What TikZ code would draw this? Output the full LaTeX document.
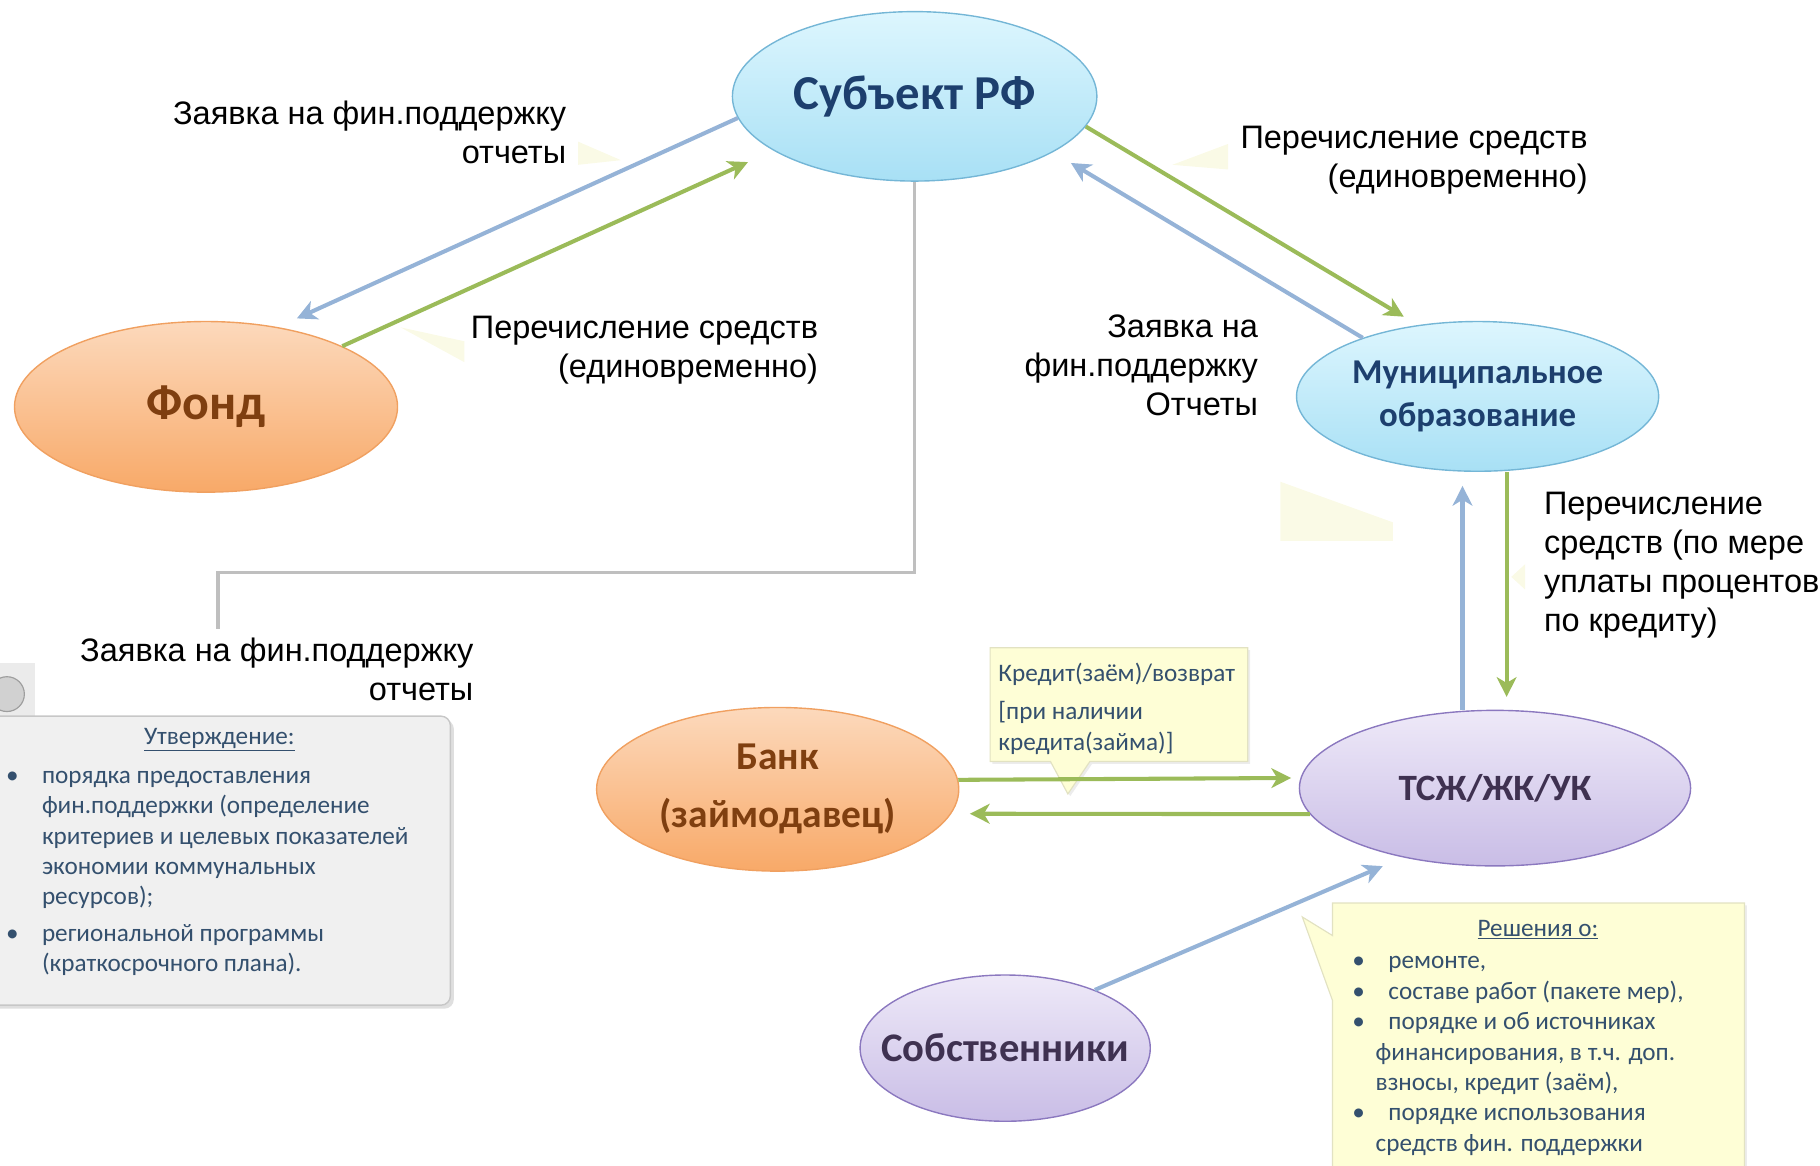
\documentclass[tikz,border=0pt]{standalone}
\usepackage{fontspec}
\setmainfont{Liberation Sans}
\newfontfamily\calfont{Carlito}
\usetikzlibrary{arrows.meta,shapes.geometric,shadows,calc}
\definecolor{cyanT}{HTML}{DDF6FE}
\definecolor{cyanBt}{HTML}{A8E0F5}
\definecolor{cyanB}{HTML}{74B6D6}
\definecolor{orT}{HTML}{FCD9BC}
\definecolor{orBt}{HTML}{F8A968}
\definecolor{orB}{HTML}{F0A060}
\definecolor{lavT}{HTML}{EEE9F8}
\definecolor{lavBt}{HTML}{C9BDE6}
\definecolor{lavB}{HTML}{8B78BF}
\definecolor{txtBlue}{HTML}{1D3F6E}
\definecolor{txtBrown}{HTML}{7F3F10}
\definecolor{txtPurple}{HTML}{3F3151}
\definecolor{arrBlue}{HTML}{95B3D7}
\definecolor{arrGreen}{HTML}{9BBB59}
\definecolor{lineGray}{HTML}{BFBFBF}
\definecolor{noteTxt}{HTML}{34506E}
\definecolor{noteYel}{HTML}{FEFED6}
\definecolor{noteYelB}{HTML}{E2E2C2}
\definecolor{paleYel}{HTML}{FAFAE6}
\tikzset{
  ell/.style={ellipse, inner sep=0pt, line width=1.2pt, align=center},
  cyanell/.style={ell, draw=cyanB, top color=cyanT, bottom color=cyanBt, text=txtBlue},
  orell/.style={ell, draw=orB, top color=orT, bottom color=orBt, text=txtBrown},
  lavell/.style={ell, draw=lavB, top color=lavT, bottom color=lavBt, text=txtPurple},
  conn/.style={line width=3.5pt, -{Stealth[length=17pt,width=17pt,inset=5pt]}},
  bluearr/.style={conn, draw=arrBlue},
  greenarr/.style={conn, draw=arrGreen},
  grayline/.style={line width=3pt, draw=lineGray},
  lbl/.style={font=\fontsize{28}{33.6}\selectfont, fill=white, inner sep=4pt},
  notetxt/.style={font=\calfont\fontsize{21.7}{26.2}\selectfont, text=noteTxt, inner sep=0pt},
  paletri/.style={fill=paleYel, draw=none},
}
\begin{document}
\begin{tikzpicture}[x=1pt,y=-1pt]
\useasboundingbox (0,0) rectangle (1568,1004);

% faint callout remnants
\fill[paletri] (498,122) -- (535,138) -- (498,142) -- cycle;
\fill[paletri] (345,282) -- (400,294) -- (400,312) -- cycle;
\fill[paletri] (1010,142) -- (1058,124) -- (1058,146) -- cycle;
\fill[paletri] (1103,415) -- (1200,450) -- (1200,466) -- (1103,466) -- cycle;
\fill[paletri] (1302,497) -- (1314,486) -- (1314,508) -- cycle;

% left grey strip with circle
\fill[black!8] (0,571) rectangle (30,618);
\draw[fill=black!18, draw=black!38, line width=1pt] (6,598) circle (15);

% grey note box
\draw[fill=black!6, draw=black!22, line width=1.2pt, rounded corners=8pt,
  drop shadow={shadow xshift=3pt, shadow yshift=-3pt, opacity=0.25}]
  (-12,617) rectangle (388,866);

% yellow callout: credit
\draw[fill=noteYel, draw=noteYelB, line width=1pt,
  drop shadow={shadow xshift=2pt, shadow yshift=-2pt, opacity=0.15}]
  (853,558) -- (1075,558) -- (1075,656) -- (939,656) -- (920,684) -- (905,656) -- (853,656) -- cycle;

% yellow callout: decisions
\draw[fill=noteYel, draw=noteYelB, line width=1pt,
  drop shadow={shadow xshift=2pt, shadow yshift=-2pt, opacity=0.15}]
  (1148,778) -- (1503,778) -- (1503,1012) -- (1148,1012) -- (1148,862) -- (1122,790) -- (1148,806) -- cycle;

% ellipses
\node[cyanell, minimum width=314pt, minimum height=146pt,
  font=\calfont\bfseries\fontsize{42}{50}\selectfont] (subj) at (788,83) {Субъект РФ};
\node[orell, minimum width=330pt, minimum height=147pt,
  font=\calfont\bfseries\fontsize{43}{50}\selectfont] (fond) at (177.5,350.5) {Фонд};
\node[cyanell, minimum width=312pt, minimum height=129pt,
  font=\calfont\bfseries\fontsize{30}{37}\selectfont] (mun) at (1273,341.5) {Муниципальное\\образование};
\node[lavell, minimum width=337pt, minimum height=134pt,
  font=\calfont\bfseries\fontsize{32}{38}\selectfont] (tsj) at (1288,679) {ТСЖ/ЖК/УК};
\node[orell, minimum width=312pt, minimum height=141pt,
  font=\calfont\bfseries\fontsize{34}{50}\selectfont] (bank) at (670,680) {Банк\\(займодавец)};
\node[lavell, minimum width=250pt, minimum height=126pt,
  font=\calfont\bfseries\fontsize{35}{40}\selectfont] (sob) at (866,903) {\makebox[0pt][c]{Собственники}};

% labels
\node[lbl, align=right, anchor=east] (l1) at (492,114) {Заявка на фин.поддержку\\отчеты};
\node[lbl, align=right, anchor=east] (l2) at (709,302) {Перечисление средств\\(единовременно)};
\node[lbl, align=right, anchor=east] (l3) at (1372,138) {Перечисление средств\\(единовременно)};
\node[lbl, align=right, anchor=east] (l4) at (1088,315) {Заявка на\\фин.поддержку\\Отчеты};
\node[lbl, align=left, anchor=west] (l5) at (1326,487) {Перечисление\\средств (по мере\\уплаты процентов\\по кредиту)};
\node[lbl, align=right, anchor=east, inner xsep=22pt, inner ysep=8pt] (l6) at (430,577) {Заявка на фин.поддержку\\отчеты};

% connectors
\draw[bluearr, shorten >=18pt] (subj.187.5) -- (fond.48);
\draw[greenarr, shorten >=24pt] (fond.24) -- (subj.201);
\draw[greenarr, shorten >=14pt] (subj.350) -- (mun.130);
\draw[bluearr, shorten >=18pt] (mun.153) -- (subj.338);
\coordinate (gcorner) at (188,493);
\draw[grayline] (subj.south) |- (gcorner) -- (gcorner |- l6.north);
\draw[bluearr, shorten >=12pt] ([xshift=-28pt]tsj.north) -- ([xshift=-13pt]mun.south);
\draw[greenarr, shorten >=11pt] ([xshift=25pt]mun.south) -- ([xshift=10pt]tsj.north);
\draw[greenarr, shorten >=8pt] (bank.3.3) -- (tsj.177.6);
\draw[greenarr, shorten >=16pt] (tsj.188) -- (bank.352.4);
\draw[bluearr, shorten >=19pt] (sob.33.5) -- (tsj.217.7);

% grey box text
\node[notetxt] (gbh) at (189,637) {\underline{Утверждение:}};
\node[notetxt, anchor=north west, align=left] (gbt) at (5,664) {%
\makebox[31pt][l]{•}порядка предоставления\\
\hspace*{31pt}фин.поддержки (определение\\
\hspace*{31pt}критериев и целевых показателей\\
\hspace*{31pt}экономии коммунальных\\
\hspace*{31pt}ресурсов);\\[5pt]
\makebox[31pt][l]{•}региональной программы\\
\hspace*{31pt}(краткосрочного плана).};

% credit callout text
\node[notetxt, anchor=north west, align=left] (crt) at (860,571) {%
Кредит(заём)/возврат\\[7pt]
{[}при наличии\\
кредита(займа)]};

% decisions callout text
\node[notetxt] (dech) at (1325,801) {\underline{Решения о:}};
\node[notetxt, anchor=north west, align=left] (dect) at (1165,824) {%
\makebox[31pt][l]{•}ремонте,\\
\makebox[31pt][l]{•}составе работ (пакете мер),\\
\makebox[31pt][l]{•}порядке и об источниках\\
\hspace*{20pt}финансирования, в т.ч. доп.\\
\hspace*{20pt}взносы, кредит (заём),\\
\makebox[31pt][l]{•}порядке использования\\
\hspace*{20pt}средств фин. поддержки};
\end{tikzpicture}
\end{document}
